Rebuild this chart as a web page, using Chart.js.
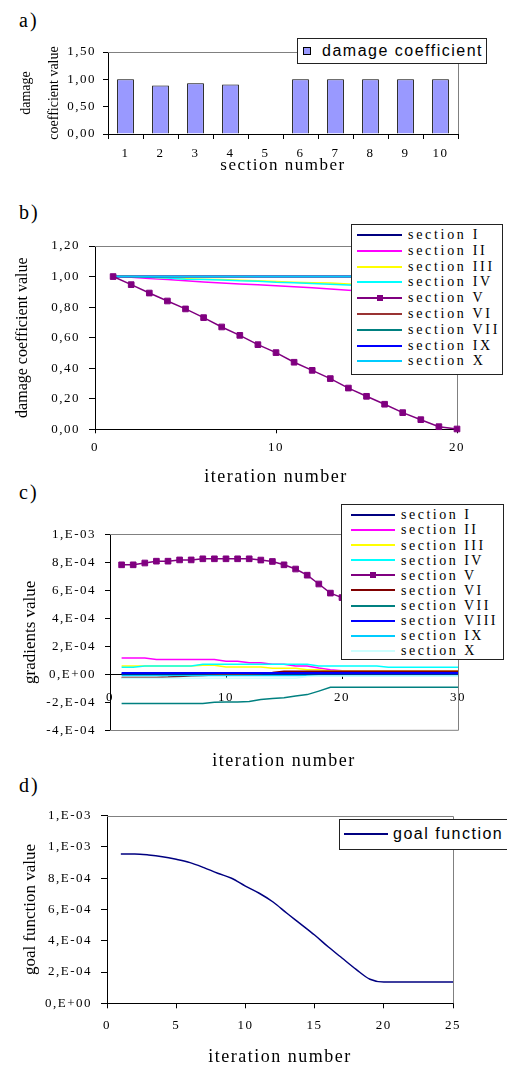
<!DOCTYPE html>
<html>
<head>
<meta charset="utf-8">
<script src="https://cdn.jsdelivr.net/npm/chart.js@4/dist/chart.umd.min.js"></script>
<style>
body { margin: 0; width: 507px; height: 1068px; overflow: hidden; background: #fff; position: relative; font-family: "Liberation Serif", serif; }
canvas { position: absolute; left: 0; }
.tag { position: absolute; left: 19px; font-size: 20px; line-height: 20px; letter-spacing: 2px; }
.legend { position: absolute; background: #fff; border: 1px solid #222; box-sizing: border-box; z-index: 2; overflow: hidden; }
.row { position: relative; white-space: nowrap; }
.sw { position: absolute; top: 50%; height: 0; border-top: 2px solid transparent; margin-top: -1px; }
.mk { position: absolute; width: 6px; height: 6px; left: 50%; top: -4px; margin-left: -3px; }
.sq { position: absolute; top: 50%; width: 8px; height: 8px; margin-top: -4px; border: 1px solid #000; box-sizing: border-box; }
</style>
</head>
<body>
<div class="tag" style="top:10px">a)</div>
<div class="tag" style="top:202px">b)</div>
<div class="tag" style="top:482px">c)</div>
<div class="tag" style="top:775px">d)</div>
<canvas id="chartA" width="507" height="185" style="top:0"></canvas>
<canvas id="chartB" width="507" height="305" style="top:185px"></canvas>
<canvas id="chartC" width="507" height="285" style="top:490px"></canvas>
<canvas id="chartD" width="507" height="293" style="top:775px"></canvas>
<script>
// a) damage coefficient per section
const sectionLabels = ["1", "2", "3", "4", "5", "6", "7", "8", "9", "10"];
const damageValues = [1.00, 0.885, 0.93, 0.905, 0, 1.00, 1.00, 1.00, 1.00, 1.00];

// b) damage coefficient vs iteration
const iterB = [1, 2, 3, 4, 5, 6, 7, 8, 9, 10, 11, 12, 13, 14, 15, 16, 17, 18, 19, 20];
const namesB = ["section I", "section II", "section III", "section IV", "section V", "section VI", "section VII", "section IX", "section X"];
const coloursB = ["#000080", "#FF00FF", "#FFFF00", "#00FFFF", "#800080", "#993333", "#008080", "#0000FF", "#00CCFF"];
const coefIntact = [1, 1, 1, 1, 1, 1, 1, 1, 1, 1, 1, 1, 1, 1, 1, 1, 1, 1, 1, 1];
const coefII = [1.00, 0.995, 0.988, 0.98, 0.972, 0.965, 0.958, 0.952, 0.946, 0.94, 0.933, 0.926, 0.918, 0.91, 0.903, 0.897, 0.892, 0.887, 0.883, 0.88];
const coefIII = [1.00, 1.00, 0.995, 0.99, 0.985, 0.982, 0.98, 0.975, 0.972, 0.967, 0.963, 0.96, 0.957, 0.952, 0.948, 0.944, 0.94, 0.937, 0.933, 0.93];
const coefIV = [1.00, 1.00, 0.995, 0.99, 0.983, 0.98, 0.978, 0.972, 0.97, 0.963, 0.96, 0.955, 0.95, 0.945, 0.94, 0.935, 0.93, 0.925, 0.915, 0.905];
const coefV = [1.00, 0.947, 0.892, 0.84, 0.788, 0.731, 0.67, 0.615, 0.554, 0.502, 0.439, 0.386, 0.332, 0.27, 0.216, 0.164, 0.109, 0.063, 0.017, 0.002];
const seriesB = [coefIntact, coefII, coefIII, coefIV, coefV, coefIntact, coefIntact, coefIntact, coefIntact];

// c) gradients vs iteration (values in units of 1e-4)
const GRAD_UNIT = 1e-4;
const iterC = [1, 2, 3, 4, 5, 6, 7, 8, 9, 10, 11, 12, 13, 14, 15, 16, 17, 18, 19, 20, 21, 22, 23, 24, 25, 26, 27, 28, 29, 30];
const namesC = ["section I", "section II", "section III", "section IV", "section V", "section VI", "section VII", "section VIII", "section IX", "section X"];
const coloursC = ["#000080", "#FF00FF", "#FFFF00", "#00FFFF", "#800080", "#800000", "#008080", "#0000FF", "#00CCFF", "#CCFFFF"];
const gradI = [0.03, 0.03, 0.03, 0.03, 0.03, 0.03, 0.03, 0.03, 0.03, 0.03, 0.03, 0.03, 0.03, 0.03, 0.03, 0.03, 0.03, 0.03, 0.03, 0.03, 0.03, 0.03, 0.03, 0.03, 0.03, 0.03, 0.03, 0.03, 0.03, 0.03];
const gradII = [1.17, 1.17, 1.17, 1.05, 1.05, 1.05, 1.05, 1.05, 1.05, 0.93, 0.93, 0.82, 0.82, 0.72, 0.72, 0.6, 0.6, 0.45, 0.32, 0.25, 0.23, 0.23, 0.23, 0.23, 0.23, 0.23, 0.23, 0.23, 0.23, 0.23];
const gradIII = [0.6, 0.6, 0.6, 0.6, 0.6, 0.6, 0.6, 0.64, 0.64, 0.52, 0.52, 0.52, 0.52, 0.43, 0.43, 0.43, 0.33, 0.33, 0.24, 0.24, 0.24, 0.24, 0.24, 0.24, 0.24, 0.24, 0.24, 0.24, 0.24, 0.24];
const gradIV = [0.5, 0.5, 0.6, 0.6, 0.6, 0.6, 0.6, 0.72, 0.72, 0.72, 0.72, 0.72, 0.72, 0.72, 0.72, 0.72, 0.72, 0.6, 0.6, 0.6, 0.6, 0.6, 0.6, 0.5, 0.5, 0.5, 0.5, 0.5, 0.5, 0.5];
const gradV = [7.82, 7.82, 7.95, 8.08, 8.08, 8.17, 8.17, 8.25, 8.25, 8.25, 8.25, 8.25, 8.16, 8.06, 7.82, 7.52, 7.08, 6.45, 5.8, 5.48];
const gradVI = [-0.22, -0.22, -0.22, -0.22, -0.2, -0.15, -0.1, -0.08, -0.05, -0.02, 0, 0.02, 0.05, 0.12, 0.21, 0.21, 0.21, 0.21, 0.21, 0.21, 0.21, 0.21, 0.21, 0.21, 0.21, 0.21, 0.21, 0.21, 0.21, 0.21];
const gradVII = [-2.08, -2.08, -2.08, -2.08, -2.08, -2.08, -2.08, -2.08, -2.0, -1.97, -1.97, -1.95, -1.8, -1.72, -1.68, -1.55, -1.45, -1.2, -0.93, -0.93, -0.93, -0.93, -0.93, -0.93, -0.93, -0.93, -0.93, -0.93, -0.93, -0.93];
const gradVIII = [0.1, 0.1, 0.1, 0.1, 0.1, 0.1, 0.1, 0.1, 0.1, 0.1, 0.1, 0.1, 0.1, 0.1, 0.1, 0.1, 0.1, 0.1, 0.1, 0.1, 0.1, 0.1, 0.1, 0.1, 0.1, 0.1, 0.1, 0.1, 0.1, 0.1];
const gradIX = [-0.08, -0.08, -0.08, -0.08, -0.08, -0.08, -0.08, -0.08, -0.08, -0.08, -0.08, -0.08, -0.08, -0.08, -0.08, -0.08, -0.08, -0.08, -0.08, -0.08, -0.08, -0.08, -0.08, -0.08, -0.08, -0.08, -0.08, -0.08, -0.08, -0.08];
const gradX = [-0.28, -0.28, -0.28, -0.28, -0.28, -0.28, -0.28, -0.28, -0.28, -0.28, -0.28, -0.28, -0.28, -0.28, -0.28, -0.28, -0.15, -0.12, -0.12, -0.12, -0.12, -0.12, -0.12, -0.12, -0.12, -0.12, -0.12, -0.12, -0.12, -0.12];
const seriesC = [gradI, gradII, gradIII, gradIV, gradV, gradVI, gradVII, gradVIII, gradIX, gradX];

// d) goal function vs iteration (units of 1e-4)
const iterD = [1, 2, 3, 4, 5, 6, 7, 8, 9, 10, 11, 12, 13, 14, 15, 16, 17, 18, 19, 20, 21, 22, 23, 24, 25];
const goalValues = [9.55, 9.55, 9.49, 9.38, 9.21, 9.0, 8.68, 8.32, 8.0, 7.5, 7.04, 6.48, 5.76, 5.07, 4.37, 3.6, 2.88, 2.17, 1.54, 1.36, 1.36, 1.36, 1.36, 1.36, 1.36];

Chart.defaults.font.family = "'Liberation Serif', serif";
Chart.defaults.color = "#000";
Chart.defaults.animation = false;
Chart.defaults.events = [];
Chart.defaults.plugins.legend.display = false;
Chart.defaults.plugins.tooltip.enabled = false;

// gray plot frame (top, right and optionally bottom)
const frame = {
    id: "frame",
    beforeDatasetsDraw(chart, args, opts) {
        const { ctx, chartArea: a } = chart;
        ctx.save();
        ctx.strokeStyle = "#808080";
        ctx.lineWidth = 1;
        ctx.beginPath();
        ctx.moveTo(a.left, Math.round(a.top) + 0.5);
        ctx.lineTo(Math.round(a.right) + 0.5, Math.round(a.top) + 0.5);
        ctx.lineTo(Math.round(a.right) + 0.5, a.bottom);
        if (opts.bottom) ctx.lineTo(a.left, Math.round(a.bottom) + 0.5);
        ctx.stroke();
        ctx.restore();
    }
};

// wide letter spacing like the original, except the rotated y titles
const spacing = {
    id: "spacing",
    beforeDraw(chart) {
        chart.ctx.letterSpacing = "1.5px";
        const y = chart.scales.y;
        if (y && !y._flatTitle) {
            const drawTitle = y.drawTitle;
            y.drawTitle = function () {
                this.ctx.save();
                this.ctx.letterSpacing = "0px";
                drawTitle.call(this);
                this.ctx.restore();
            };
            y._flatTitle = true;
        }
    }
};

function comma2(v) { return v.toFixed(2).replace(".", ","); }

function sci(v) {
    if (Math.abs(v) < 1e-12) return "0,E+00";
    const parts = v.toExponential(0).split("e");
    const e = parseInt(parts[1], 10);
    return parts[0] + ",E" + (e < 0 ? "-" : "+") + String(Math.abs(e)).padStart(2, "0");
}

function points(xs, ys, k) {
    return ys.map((y, i) => ({ x: xs[i], y: y * k }));
}

function lineSets(names, colours, series, xs, k) {
    return names.map((name, i) => ({
        label: name,
        data: points(xs, series[i], k),
        borderColor: colours[i],
        backgroundColor: colours[i],
        borderWidth: name === "section VIII" ? 2 : 1.5,
        pointRadius: name === "section V" ? 4 : 0,
        pointStyle: "rect",
        pointBorderWidth: 1,
        order: name === "section V" ? -100 : -i,
        clip: 8,
        xAxisID: "x"
    }));
}

function tickGrid(len) {
    return { display: true, drawOnChartArea: false, drawTicks: true, tickLength: len, color: "#000" };
}

function buildLegend(chart, cfg) {
    const box = document.createElement("div");
    box.className = "legend";
    Object.assign(box.style, {
        left: cfg.left + "px", top: cfg.top + "px", width: cfg.width + "px", height: cfg.height + "px",
        paddingTop: cfg.padTop + "px", font: cfg.font, letterSpacing: cfg.spacing + "px"
    });
    chart.data.datasets.forEach(ds => {
        const row = document.createElement("div");
        row.className = "row";
        row.style.height = cfg.rowH + "px";
        row.style.lineHeight = cfg.rowH + "px";
        const sw = document.createElement("div");
        sw.style.left = cfg.swLeft + "px";
        if (cfg.square) {
            sw.className = "sq";
            sw.style.background = ds.backgroundColor;
        } else {
            sw.className = "sw";
            sw.style.width = cfg.swWidth + "px";
            sw.style.borderTopColor = ds.borderColor;
            if (ds.pointRadius > 0) {
                const mk = document.createElement("div");
                mk.className = "mk";
                mk.style.background = ds.borderColor;
                sw.appendChild(mk);
            }
        }
        const tx = document.createElement("span");
        tx.textContent = ds.label;
        tx.style.marginLeft = cfg.textLeft + "px";
        row.append(sw, tx);
        box.appendChild(row);
    });
    document.body.appendChild(box);
}

// ---- a) ----
const chartA = new Chart(document.getElementById("chartA"), {
    type: "bar",
    data: {
        labels: sectionLabels,
        datasets: [{
            label: "damage coefficient",
            data: damageValues,
            backgroundColor: "#9999FF",
            borderColor: "#000",
            borderWidth: 1,
            barPercentage: 0.48,
            categoryPercentage: 1
        }]
    },
    options: {
        responsive: false,
        devicePixelRatio: 1,
        layout: { padding: { top: 52, right: 49, left: 0, bottom: 0 } },
        scales: {
            x: {
                grid: tickGrid(5),
                border: { color: "#000" },
                ticks: { padding: 6.4, font: { size: 13 }, autoSkip: false, maxRotation: 0 },
                title: { display: true, text: "section number", font: { size: 17 }, padding: { top: 0, bottom: 8.8 } },
                afterFit: s => { s.height = 51; }
            },
            y: {
                min: 0, max: 1.5,
                grid: tickGrid(5),
                border: { color: "#000" },
                ticks: { stepSize: 0.5, padding: 7, font: { size: 13 }, callback: comma2 },
                title: { display: true, text: ["damage", "coefficient value"], font: { size: 14, lineHeight: 2 }, padding: { top: 12, bottom: 0 } },
                afterFit: s => { s.width = 108; }
            }
        },
        plugins: { frame: {} }
    },
    plugins: [frame, spacing]
});
buildLegend(chartA, { left: 297, top: 38, width: 190, height: 26, padTop: 0, rowH: 24, square: true, swLeft: 5, textLeft: 24, font: "16px 'Liberation Sans', sans-serif", spacing: 1.5 });

// ---- b) ----
const chartB = new Chart(document.getElementById("chartB"), {
    type: "line",
    data: { datasets: lineSets(namesB, coloursB, seriesB, iterB, 1) },
    options: {
        responsive: false,
        devicePixelRatio: 1,
        layout: { padding: { top: 61, right: 50, left: 0, bottom: 0 } },
        scales: {
            x: {
                type: "linear", min: 0, max: 20,
                grid: tickGrid(4),
                border: { color: "#000" },
                ticks: { stepSize: 10, padding: 6.9, font: { size: 13 }, maxRotation: 0 },
                title: { display: true, text: "iteration number", font: { size: 18 }, padding: { top: 0, bottom: 2.2 } },
                afterFit: s => { s.height = 60.7; }
            },
            y: {
                min: 0, max: 1.2,
                grid: tickGrid(6),
                border: { color: "#000" },
                ticks: { stepSize: 0.2, padding: 9, font: { size: 13 }, callback: comma2 },
                title: { display: true, text: "damage coefficient value", font: { size: 16 }, padding: { top: 13, bottom: 0 } },
                afterFit: s => { s.width = 95; }
            }
        },
        plugins: { frame: {} }
    },
    plugins: [frame, spacing]
});
buildLegend(chartB, { left: 351, top: 224, width: 152, height: 151, padTop: 2.1, rowH: 15.8, swLeft: 5, swWidth: 45, textLeft: 56, font: "14px 'Liberation Serif', serif", spacing: 2.7 });

// ---- c) ----
const chartC = new Chart(document.getElementById("chartC"), {
    type: "line",
    data: { datasets: lineSets(namesC, coloursC, seriesC, iterC, GRAD_UNIT) },
    options: {
        responsive: false,
        devicePixelRatio: 1,
        layout: { padding: { top: 44.3, right: 49, left: 0, bottom: 0 } },
        scales: {
            x: {
                type: "linear", min: 0, max: 30,
                position: { y: 0 },
                grid: tickGrid(4),
                border: { color: "#000" },
                ticks: { stepSize: 10, padding: 11.2, font: { size: 13 }, maxRotation: 0 },
                afterFit: s => { s.height = 0; }
            },
            xt: {
                type: "linear", axis: "x", position: "bottom", min: 0, max: 1,
                grid: { display: false },
                border: { display: false },
                ticks: { display: false },
                title: { display: true, text: "iteration number", font: { size: 18 }, padding: { top: 0, bottom: 2.5 } },
                afterFit: s => { s.height = 44.7; }
            },
            y: {
                min: -4e-4, max: 1e-3,
                grid: tickGrid(5),
                border: { color: "#000" },
                ticks: { stepSize: 2e-4, padding: 9, font: { size: 13 }, callback: sci },
                title: { display: true, text: "gradients value", font: { size: 17 }, padding: { top: 20.8, bottom: 0 } },
                afterFit: s => { s.width = 110; }
            }
        },
        plugins: { frame: { bottom: true } }
    },
    plugins: [frame, spacing]
});
buildLegend(chartC, { left: 341, top: 504, width: 163, height: 156, padTop: 2.4, rowH: 15.1, swLeft: 9, swWidth: 44, textLeft: 59, font: "14px 'Liberation Serif', serif", spacing: 2.5 });

// ---- d) ----
const chartD = new Chart(document.getElementById("chartD"), {
    type: "line",
    data: {
        datasets: [{
            label: "goal function",
            data: points(iterD, goalValues, GRAD_UNIT),
            borderColor: "#000080",
            backgroundColor: "#000080",
            borderWidth: 1.5,
            pointRadius: 0,
            cubicInterpolationMode: "monotone"
        }]
    },
    options: {
        responsive: false,
        devicePixelRatio: 1,
        layout: { padding: { top: 40.7, right: 54, left: 0, bottom: 0 } },
        scales: {
            x: {
                type: "linear", min: 0, max: 25,
                grid: tickGrid(5),
                border: { color: "#000" },
                ticks: { stepSize: 5, padding: 9.9, font: { size: 13 }, maxRotation: 0 },
                title: { display: true, text: "iteration number", font: { size: 18 }, padding: { top: 0, bottom: 0.2 } },
                afterFit: s => { s.height = 64.7; }
            },
            y: {
                min: 0, max: 1.2e-3,
                grid: tickGrid(6),
                border: { color: "#000" },
                ticks: { stepSize: 2e-4, padding: 9, font: { size: 13 }, callback: sci },
                title: { display: true, text: "goal function value", font: { size: 17 }, padding: { top: 20.3, bottom: 0 } },
                afterFit: s => { s.width = 107; }
            }
        },
        plugins: { frame: {} }
    },
    plugins: [frame, spacing]
});
buildLegend(chartD, { left: 339, top: 819, width: 171, height: 31, padTop: 0, rowH: 27, swLeft: 4, swWidth: 44, textLeft: 53, font: "16px 'Liberation Sans', sans-serif", spacing: 1.5 });
</script>
</body>
</html>
